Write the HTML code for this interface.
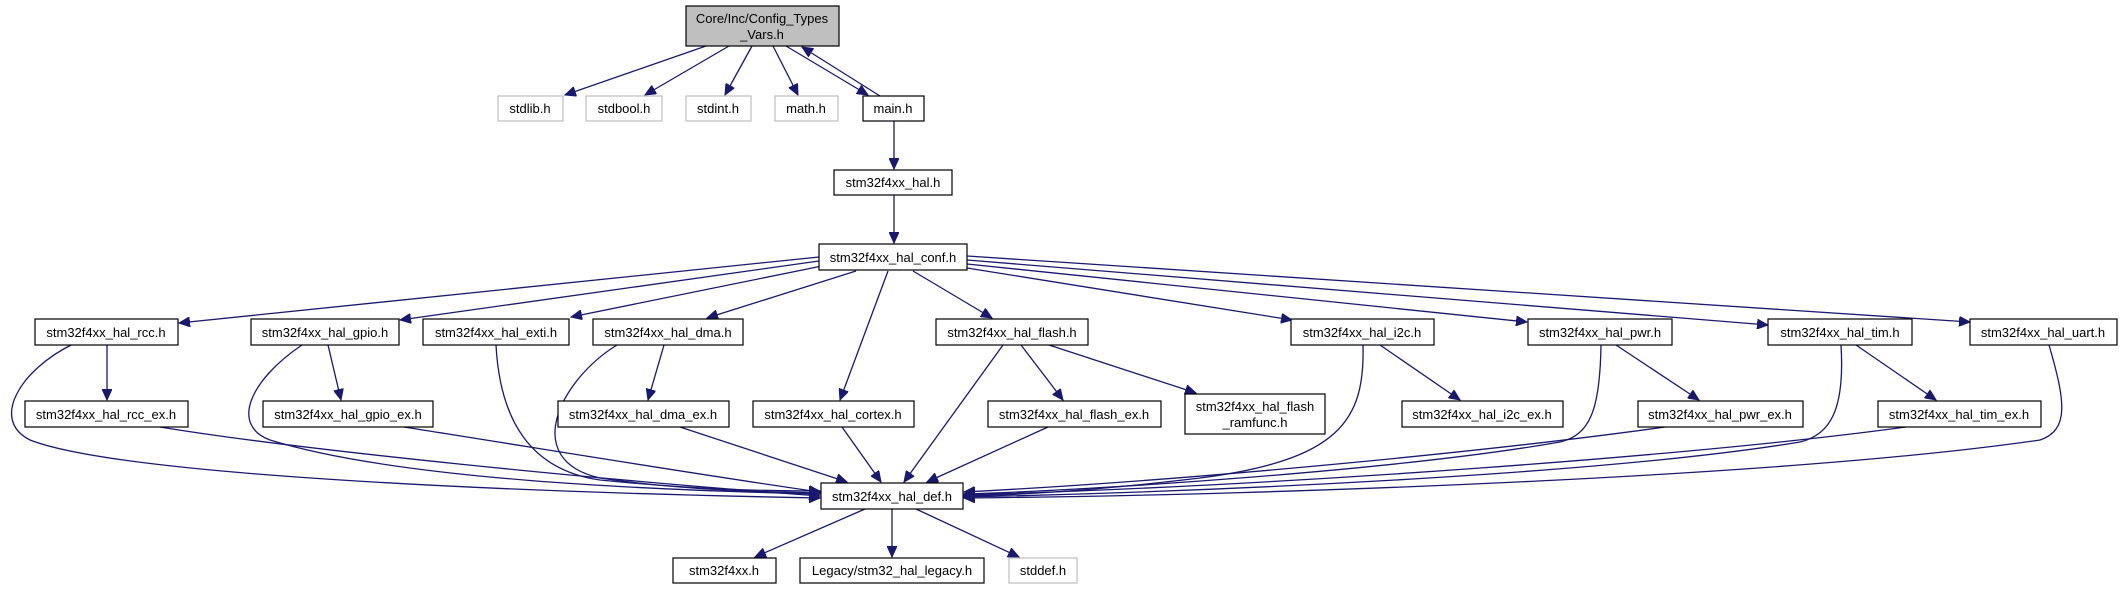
<!DOCTYPE html>
<html><head><meta charset="utf-8"><style>
html,body{margin:0;padding:0;background:#fff;}
svg{display:block;}
text{font-family:"Liberation Sans",Arial,sans-serif;font-size:13px;fill:#000;text-anchor:middle;}
.n{fill:#fff;stroke:#000;stroke-width:1.2;}
.g{fill:#fff;stroke:#bfbfbf;stroke-width:1.2;}
.e{fill:none;stroke:#191970;stroke-width:1.3;marker-end:url(#a);}
</style></head><body>
<svg width="2122" height="589" viewBox="0 0 2122 589" xmlns="http://www.w3.org/2000/svg">
<defs><marker id="a" markerUnits="userSpaceOnUse" markerWidth="12" markerHeight="10" refX="11" refY="5" orient="auto"><path d="M0,0 L11,5 L0,10 z" fill="#191970" stroke="#191970"/></marker></defs>

<!-- edges -->
<path class="e" d="M706,46 L565,95"/>
<path class="e" d="M729,46 L645,95"/>
<path class="e" d="M752,46 L725,95"/>
<path class="e" d="M773,46 L798,95"/>
<path class="e" d="M786,46 L868,95"/>
<path class="e" d="M880,96 L802,47"/>
<path class="e" d="M894,121 L894,169"/>
<path class="e" d="M894,195 L894,243"/>

<path class="e" d="M819,257 L179,323"/>
<path class="e" d="M819,261 L400,320"/>
<path class="e" d="M822,266 L571,317"/>
<path class="e" d="M856,271 L707,318"/>
<path class="e" d="M888,271 L840,400"/>
<path class="e" d="M913,271 L992,318"/>
<path class="e" d="M967,268 L1292,320"/>
<path class="e" d="M967,264 L1527,322"/>
<path class="e" d="M967,260 L1768,325"/>
<path class="e" d="M967,256 L1970,322"/>

<path class="e" d="M107,344 L107,400"/>
<path class="e" d="M328,345 L341,400"/>
<path class="e" d="M664,345 L648,400"/>
<path class="e" d="M1021,345 L1063,400"/>
<path class="e" d="M1049,345 L1196,393"/>
<path class="e" d="M1380,345 L1460,400"/>
<path class="e" d="M1616,345 L1699,400"/>
<path class="e" d="M1856,345 L1936,400"/>

<path class="e" d="M73,344 C20,370 -10,420 30,440 C120,475 500,492 820,498"/>
<path class="e" d="M160,427 C300,450 600,480 820,496"/>
<path class="e" d="M302,345 C250,380 230,425 270,440 C400,480 650,490 820,494"/>
<path class="e" d="M404,427 C550,450 700,475 820,492"/>
<path class="e" d="M496,345 C500,420 530,470 600,480 C700,490 770,491 820,491"/>
<path class="e" d="M617,345 C560,380 520,460 600,478 C680,490 760,492 820,493"/>
<path class="e" d="M680,427 L847,482"/>
<path class="e" d="M842,427 L881,482"/>
<path class="e" d="M1003,345 L904,482"/>
<path class="e" d="M1048,427 L927,482"/>
<path class="e" d="M1363,345 C1365,420 1340,460 1200,478 C1100,490 1020,495 964,496"/>
<path class="e" d="M1601,345 C1600,410 1590,435 1560,442 C1400,470 1100,490 964,494"/>
<path class="e" d="M1665,427 C1500,450 1200,480 964,492"/>
<path class="e" d="M1841,345 C1845,410 1830,435 1800,442 C1600,475 1200,492 964,497"/>
<path class="e" d="M1906,427 C1700,455 1300,485 964,495"/>
<path class="e" d="M2049,345 C2065,400 2070,430 2040,440 C1800,475 1300,495 964,498"/>

<path class="e" d="M865,509 L755,557"/>
<path class="e" d="M892,509 L892,557"/>
<path class="e" d="M916,509 L1019,557"/>

<!-- nodes -->
<rect x="686" y="6" width="153" height="40" fill="#bfbfbf" stroke="#000" stroke-width="1.2"/>
<text x="762" y="23">Core/Inc/Config_Types</text><text x="762" y="39">_Vars.h</text>

<rect class="g" x="498" y="96" width="65" height="25"/><text x="530" y="113">stdlib.h</text>
<rect class="g" x="586" y="96" width="76" height="25"/><text x="624" y="113">stdbool.h</text>
<rect class="g" x="686" y="96" width="65" height="25"/><text x="718" y="113">stdint.h</text>
<rect class="g" x="775" y="96" width="63" height="25"/><text x="806" y="113">math.h</text>
<rect class="n" x="863" y="96" width="61" height="25"/><text x="893" y="113">main.h</text>

<rect class="n" x="834" y="170" width="118" height="25"/><text x="893" y="187">stm32f4xx_hal.h</text>
<rect class="n" x="819" y="244" width="148" height="26"/><text x="893" y="262">stm32f4xx_hal_conf.h</text>

<rect class="n" x="35" y="319" width="143" height="26"/><text x="106" y="337">stm32f4xx_hal_rcc.h</text>
<rect class="n" x="251" y="319" width="148" height="26"/><text x="325" y="337">stm32f4xx_hal_gpio.h</text>
<rect class="n" x="423" y="319" width="146" height="26"/><text x="496" y="337">stm32f4xx_hal_exti.h</text>
<rect class="n" x="593" y="319" width="150" height="26"/><text x="668" y="337">stm32f4xx_hal_dma.h</text>
<rect class="n" x="936" y="319" width="152" height="26"/><text x="1012" y="337">stm32f4xx_hal_flash.h</text>
<rect class="n" x="1291" y="319" width="143" height="26"/><text x="1362" y="337">stm32f4xx_hal_i2c.h</text>
<rect class="n" x="1528" y="319" width="144" height="26"/><text x="1600" y="337">stm32f4xx_hal_pwr.h</text>
<rect class="n" x="1768" y="319" width="144" height="26"/><text x="1840" y="337">stm32f4xx_hal_tim.h</text>
<rect class="n" x="1970" y="319" width="147" height="26"/><text x="2043" y="337">stm32f4xx_hal_uart.h</text>

<rect class="n" x="25" y="401" width="163" height="26"/><text x="106" y="419">stm32f4xx_hal_rcc_ex.h</text>
<rect class="n" x="263" y="401" width="170" height="26"/><text x="348" y="419">stm32f4xx_hal_gpio_ex.h</text>
<rect class="n" x="558" y="401" width="171" height="26"/><text x="643" y="419">stm32f4xx_hal_dma_ex.h</text>
<rect class="n" x="753" y="401" width="161" height="26"/><text x="833" y="419">stm32f4xx_hal_cortex.h</text>
<rect class="n" x="988" y="401" width="173" height="26"/><text x="1074" y="419">stm32f4xx_hal_flash_ex.h</text>
<rect class="n" x="1185" y="394" width="140" height="40"/><text x="1255" y="411">stm32f4xx_hal_flash</text><text x="1255" y="427">_ramfunc.h</text>
<rect class="n" x="1402" y="401" width="161" height="26"/><text x="1482" y="419">stm32f4xx_hal_i2c_ex.h</text>
<rect class="n" x="1638" y="401" width="165" height="26"/><text x="1720" y="419">stm32f4xx_hal_pwr_ex.h</text>
<rect class="n" x="1878" y="401" width="163" height="26"/><text x="1959" y="419">stm32f4xx_hal_tim_ex.h</text>

<rect class="n" x="821" y="483" width="142" height="26"/><text x="892" y="501">stm32f4xx_hal_def.h</text>

<rect class="n" x="673" y="558" width="103" height="25"/><text x="724" y="575">stm32f4xx.h</text>
<rect class="n" x="800" y="558" width="184" height="25"/><text x="892" y="575">Legacy/stm32_hal_legacy.h</text>
<rect class="g" x="1009" y="558" width="68" height="25"/><text x="1043" y="575">stddef.h</text>
</svg>
</body></html>
